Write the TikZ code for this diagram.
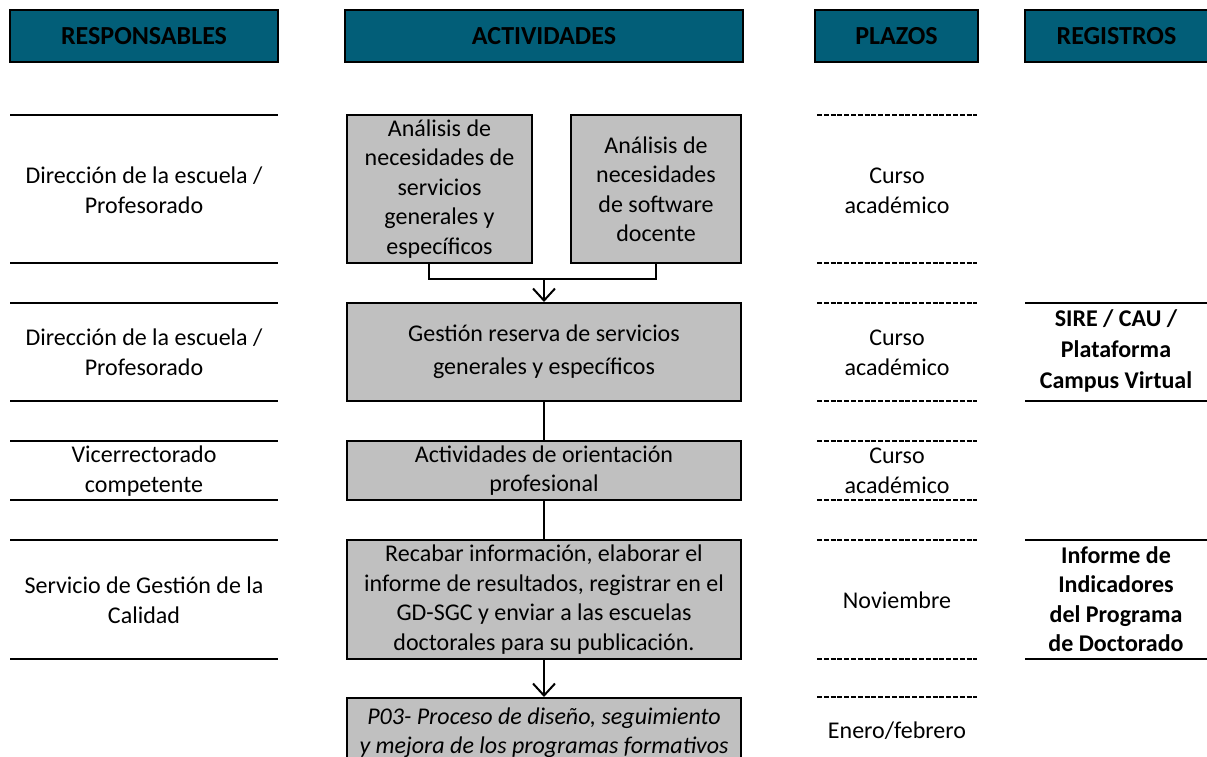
\documentclass[tikz,border=0pt]{standalone}
\usepackage{fontspec}
\setmainfont{Carlito}
\usetikzlibrary{arrows.meta}
\definecolor{headteal}{RGB}{2,94,120}
\definecolor{boxgray}{RGB}{192,192,192}
\begin{document}
\begin{tikzpicture}[x=1pt,y=-1pt,
  every node/.style={font=\fontsize{24}{29.5}\selectfont, align=center, inner sep=0pt},
  head/.style={draw=black, line width=2pt, fill=headteal, font=\fontsize{26}{30}\selectfont\bfseries},
  act/.style={draw=black, line width=2pt, fill=boxgray},
  sep/.style={line width=2pt},
  dsep/.style={line width=1.4pt, dash pattern=on 5pt off 1.8pt},
  conn/.style={line width=2pt},
  brk/.style={line width=1.5pt},
  arr/.style={line width=2pt, -{Straight Barb[length=12pt,width=22pt,line width=2pt]}},
  reg/.style={font=\fontsize{24}{31}\selectfont\bfseries}]
\useasboundingbox (0,0) rectangle (1207,756);
\clip (0,0) rectangle (1207,756);

% headers
\node[head, minimum width=268pt, minimum height=52pt] (h1) at (144,36) {RESPONSABLES};
\node[head, minimum width=398pt, minimum height=52pt] (h2) at (544,36) {ACTIVIDADES};
\node[head, minimum width=163pt, minimum height=52pt] (h3) at (896.5,36) {PLAZOS};
\node[head, minimum width=183pt, minimum height=52pt] (h4) at (1116.5,36) {REGISTROS};

% left column separators
\foreach \yy in {115,263,303,401,441,500,540,659}
  \draw[sep] (10,\yy) -- (278,\yy);
\node (r1) at (144,190) {Dirección de la escuela /\\Profesorado};
\node (r2) at (144,352) {Dirección de la escuela /\\Profesorado};
\node (r3) at (144,471) {Vicerrectorado\\competente};
\node (r4) at (144,600) {Servicio de Gestión de la\\Calidad};

% plazos separators
\foreach \yy in {115,263,303,401,441,500,540,659,697}
  \draw[dsep] (817,\yy) -- (977,\yy);
\node (p1) at (897,191) {Curso\\académico};
\node (p2) at (897,353) {Curso\\académico};
\node (p3) at (897,471) {Curso\\académico};
\node (p4) at (897,600) {Noviembre};
\node (p5) at (897,731) {Enero/febrero};

% registros
\draw[sep] (1025,303) -- (1207,303);
\draw[sep] (1025,401) -- (1207,401);
\draw[sep] (1025,540) -- (1207,540);
\draw[sep] (1025,659) -- (1207,659);
\node[reg] (g1) at (1116,351) {SIRE / CAU /\\Plataforma\\Campus Virtual};
\node[reg, font=\fontsize{24}{29.5}\selectfont\bfseries] (g2) at (1116,599) {Informe de\\Indicadores\\del Programa\\de Doctorado};

% activities
\node[act, minimum width=185pt, minimum height=148pt] (a1) at (439.5,189)
  {Análisis de\\necesidades de\\servicios\\generales y\\específicos};
\node[act, minimum width=170pt, minimum height=148pt] (a2) at (656,189)
  {Análisis de\\necesidades\\de software\\docente};
\node[act, minimum width=394pt, minimum height=98pt, font=\fontsize{24}{33}\selectfont] (b) at (544,352)
  {Gestión reserva de servicios\\generales y específicos};
\node[act, minimum width=394pt, minimum height=59pt] (c) at (544,470.5)
  {Actividades de orientación\\profesional};
\node[act, minimum width=394pt, minimum height=119pt] (d) at (544,599.5)
  {Recabar información, elaborar el\\informe de resultados, registrar en el\\GD-SGC y enviar a las escuelas\\doctorales para su publicación.};
\node[act, minimum width=394pt, minimum height=80pt, font=\fontsize{24}{29}\selectfont\itshape, anchor=north] (e) at (544,697)
  {\rule{0pt}{25pt}P03- Proceso de diseño, seguimiento\\y mejora de los programas formativos\rule[-23pt]{0pt}{23pt}};

% connectors
\coordinate (bj) at (544,279);
\draw[brk] ([xshift=-10.5pt]a1.south) |- (bj) -| (a2.south);
\draw[arr] (bj) -- (b.north);
\draw[conn] (b.south) -- (c.north);
\draw[conn] (c.south) -- (d.north);
\draw[arr] (d.south) -- (e.north);
\end{tikzpicture}
\end{document}
